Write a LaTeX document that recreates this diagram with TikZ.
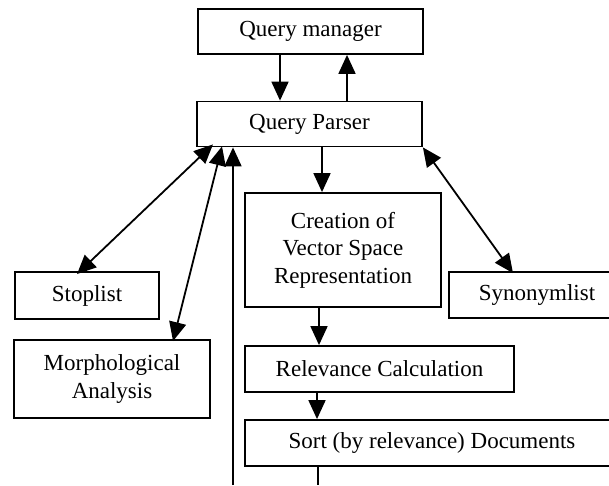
\documentclass[tikz,border=0pt]{standalone}
\usepackage{fontspec}
\setmainfont{Liberation Serif}
\usetikzlibrary{arrows.meta}

\tikzset{
  box/.style={draw, line width=1.8pt, inner sep=0pt, align=center,
              font=\fontsize{23}{27.5}\selectfont},
  tip/.tip={Triangle[length=19pt,width=17pt]},
  arr/.style={line width=1.8pt, -tip},
  biarr/.style={line width=1.8pt, tip-tip},
  link/.style={line width=1.8pt}
}

\begin{document}
\begin{tikzpicture}[x=1pt, y=-1pt]
  \fill[white] (0,0) rectangle (609,485);
  \clip (0,0) rectangle (609,485);

  % processing chain
  \node[box, minimum width=225pt, minimum height=45pt] (qm) at (310.5,31.5) {Query manager};
  \node[box, minimum width=225pt, minimum height=45pt] (qp) at (309.5,124) {Query Parser};
  \node[box, minimum width=196pt, minimum height=114pt] (cr) at (343,250)
       {Creation of\\Vector Space\\Representation};
  \node[box, minimum width=269pt, minimum height=46pt] (rel) at (379.5,369) {Relevance Calculation};
  \node[box, minimum width=374pt, minimum height=46pt] (sort) at (432,443) {Sort (by relevance) Documents};

  % auxiliary resources
  \node[box, minimum width=144pt, minimum height=47pt] (stop) at (87,295.5) {Stoplist};
  \node[box, minimum width=196pt, minimum height=78pt] (morph) at (112,379) {Morphological\\Analysis};
  \node[box, minimum width=176pt, minimum height=46pt] (syn) at (537,295) {Synonymlist};

  % loose ends at the lower edge
  \coordinate (feed) at (233,485);
  \coordinate (result) at (318,485);

  % connectors
  \draw[arr] ([xshift=-30.5pt]qm.south) -- ([xshift=-29.5pt]qp.north);
  \draw[arr] ([xshift=37.5pt]qp.north) -- ([xshift=36.5pt]qm.south);
  \draw[arr] ([xshift=12.5pt]qp.south) -- ([xshift=-21pt]cr.north);
  \draw[arr] ([xshift=-24pt]cr.south) -- ([xshift=-60.5pt]rel.north);
  \draw[arr] ([xshift=-62.5pt]rel.south) -- ([xshift=-115pt]sort.north);
  \draw[link] ([xshift=-114pt]sort.south) -- (result);
  \draw[arr] (feed) -- ([xshift=-76.5pt]qp.south);

  \draw[biarr] ([xshift=-96.5pt,yshift=3pt]qp.south) -- ([xshift=-10pt,yshift=-3pt]stop.north);
  \draw[biarr] ([xshift=-87.5pt,yshift=1pt]qp.south) -- ([xshift=61pt,yshift=-2pt]morph.north);
  \draw[biarr] (qp.south east) -- ([xshift=-24pt,yshift=-2pt]syn.north);
\end{tikzpicture}
\end{document}
